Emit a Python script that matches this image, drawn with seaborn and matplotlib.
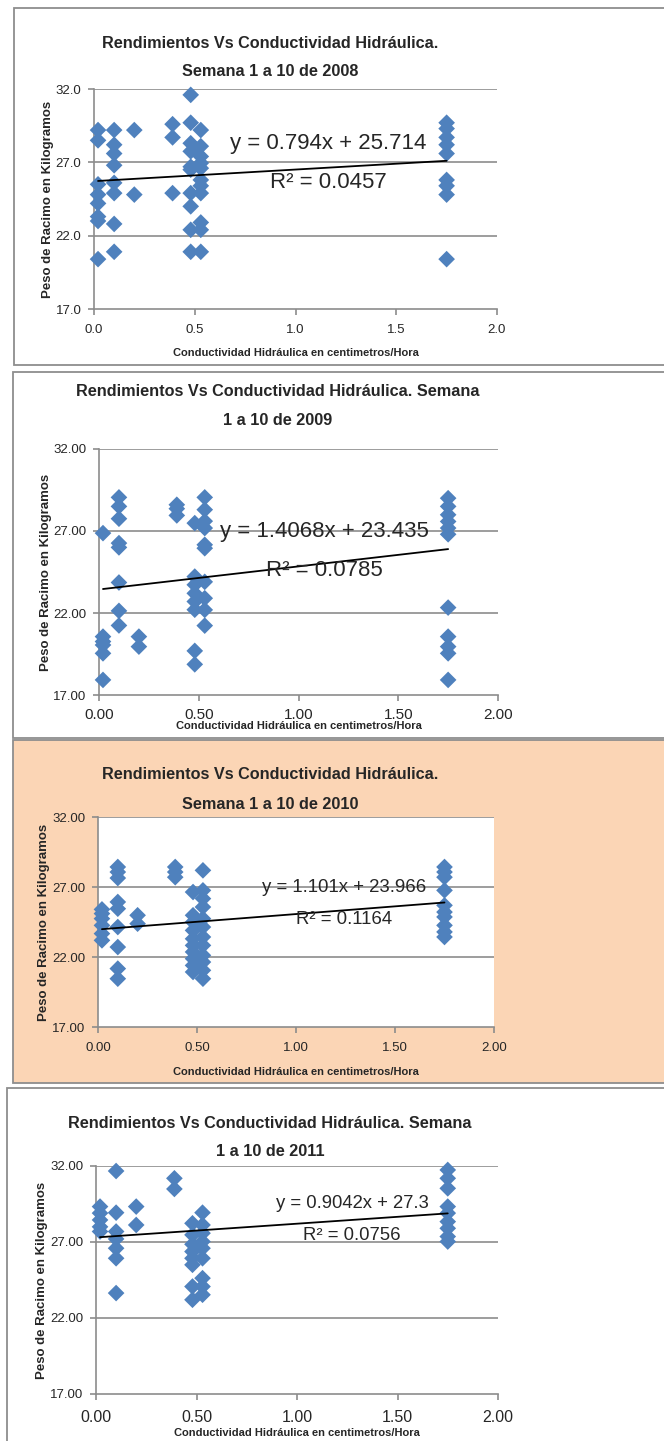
import numpy as np
import pandas as pd
import matplotlib
matplotlib.use("Agg")
import matplotlib.pyplot as plt
from matplotlib.patches import Rectangle
import seaborn as sns

# ---------------------------------------------------------------------------
# Data: bunch weight (kg) grouped by hydraulic conductivity (cm/h)
# ---------------------------------------------------------------------------
x_levels = [0.02, 0.10, 0.20, 0.39, 0.48, 0.53, 1.75]

peso_2008 = [
    [29.2, 28.5, 25.5, 24.8, 24.2, 23.3, 23.0, 20.4],
    [29.2, 28.2, 27.6, 26.8, 25.6, 24.9, 22.8, 20.9],
    [29.2, 24.8],
    [29.6, 28.7, 24.9],
    [31.6, 29.7, 28.3, 27.75, 26.7, 26.5, 24.9, 24.0, 22.4, 20.9],
    [29.2, 28.1, 27.4, 26.95, 26.6, 25.8, 25.4, 24.9, 22.9, 22.4, 20.9],
    [29.7, 29.3, 28.7, 28.2, 27.6, 25.8, 25.4, 24.8, 20.4],
]
peso_2009 = [
    [26.87, 20.56, 20.26, 20.05, 19.54, 17.92],
    [29.05, 28.5, 27.75, 26.26, 26.0, 23.86, 22.13, 21.24],
    [20.56, 19.95],
    [28.6, 28.36, 27.95],
    [27.48, 24.22, 23.72, 23.2, 22.7, 22.2, 19.69, 18.87],
    [29.05, 28.3, 27.6, 27.18, 26.16, 25.95, 23.9, 22.9, 22.19, 21.23],
    [29.0, 28.5, 27.99, 27.58, 27.18, 26.8, 22.33, 20.56, 19.95, 19.54, 17.92],
]
peso_2010 = [
    [25.4, 25.1, 24.74, 24.26, 23.67, 23.19],
    [28.43, 28.07, 27.64, 25.93, 25.45, 24.14, 22.71, 21.17, 20.45],
    [24.98, 24.38],
    [28.43, 28.07, 27.7],
    [26.64, 24.98, 24.5, 23.9, 23.3, 22.83, 22.36, 21.88, 21.4, 20.93],
    [28.19, 26.76, 26.17, 25.57, 24.74, 24.14, 23.43, 22.83, 22.12, 21.64, 21.05, 20.45],
    [28.43, 28.07, 27.7, 26.76, 25.69, 25.21, 24.86, 24.26, 23.79, 23.43],
]
peso_2011 = [
    [29.33, 28.9, 28.45, 28.0, 27.69],
    [31.67, 28.93, 27.69, 27.2, 26.59, 25.93, 23.64],
    [29.33, 28.12],
    [31.19, 30.49],
    [28.23, 27.47, 26.85, 26.37, 25.93, 25.5, 24.07, 23.2],
    [28.93, 28.12, 27.58, 27.03, 26.59, 25.93, 24.62, 24.07, 23.53],
    [31.74, 31.19, 30.53, 29.33, 28.9, 28.34, 27.9, 27.36, 27.03],
]

years = [2008, 2009, 2010, 2011]
slopes = [0.794, 1.4068, 1.101, 0.9042]
intercepts = [25.714, 23.435, 23.966, 27.3]
slope_labels = ["0.794", "1.4068", "1.101", "0.9042"]
intercept_labels = ["25.714", "23.435", "23.966", "27.3"]
r2_labels = ["0.0457", "0.0785", "0.1164", "0.0756"]

title_line1 = [
    "Rendimientos Vs Conductividad Hidráulica.",
    "Rendimientos Vs Conductividad Hidráulica. Semana",
    "Rendimientos Vs Conductividad Hidráulica.",
    "Rendimientos Vs Conductividad Hidráulica. Semana",
]
title_line2 = [
    "Semana 1 a 10 de 2008",
    "1 a 10 de 2009",
    "Semana 1 a 10 de 2010",
    "1 a 10 de 2011",
]

y_ticks = [17, 22, 27, 32]
x_ticks = [0.0, 0.5, 1.0, 1.5, 2.0]
x_label = "Conductividad Hidráulica en centimetros/Hora"
y_label = "Peso de Racimo en Kilogramos"

# ---------------------------------------------------------------------------
# Styling
# ---------------------------------------------------------------------------
sns.set_theme(style="white")
FONT = ["Liberation Sans", "DejaVu Sans"]
plt.rcParams["font.family"] = FONT

W, H = 664, 1441
BLUE = "#4F81BD"
GRID = "#8C8C8C"
FRAME = "#8E8E8E"
PEACH = "#FBD5B5"

fig = plt.figure(figsize=(W / 100, H / 100), dpi=100)
fig.patch.set_facecolor("white")


def fx(px):
    return px / W


def fy(py):
    return 1 - py / H


def frame(x0, y0, x1, y1, face="white"):
    fig.patches.append(
        Rectangle((fx(x0), fy(y1)), fx(x1) - fx(x0), fy(y0) - fy(y1),
                  transform=fig.transFigure, facecolor=face,
                  edgecolor=FRAME, linewidth=1.3, zorder=-5)
    )


# panel layout in pixels
panels = [
    dict(frame=(14, 8, 700, 365), face="white", ax=(94, 89, 497, 309),
         ylab_fmt="{:.1f}", xlab_fmt="{:.1f}", xtick_fs=9.5, xtick_pad=7,
         xlabel_y=353, ylabel_x=48, title_x=270, title_y=(43, 72),
         eq=(328, 143, 183), eq_fs=16),
    dict(frame=(13, 372, 700, 738), face="white", ax=(99, 449, 498, 695),
         ylab_fmt="{:.2f}", xlab_fmt="{:.2f}", xtick_fs=11, xtick_pad=5,
         xlabel_y=726, ylabel_x=46, title_x=278, title_y=(392, 420),
         eq=(324, 532, 571), eq_fs=16),
    dict(frame=(13, 740, 700, 1083), face=PEACH, ax=(98, 817, 494, 1027),
         ylab_fmt="{:.2f}", xlab_fmt="{:.2f}", xtick_fs=9.5, xtick_pad=6.5,
         xlabel_y=1072, ylabel_x=44, title_x=270, title_y=(775, 805),
         eq=(344, 888, 920), eq_fs=13.4),
    dict(frame=(7, 1088, 700, 1460), face="white", ax=(96, 1166, 498, 1394),
         ylab_fmt="{:.2f}", xlab_fmt="{:.2f}", xtick_fs=11.5, xtick_pad=7.5,
         xlabel_y=1433, ylabel_x=42, title_x=270, title_y=(1123, 1152),
         eq=(352, 1204, 1235), eq_fs=13.3),
]

datasets = [peso_2008, peso_2009, peso_2010, peso_2011]

for i, (cfg, peso) in enumerate(zip(panels, datasets)):
    frame(*cfg["frame"], face=cfg["face"])

    x0, y0, x1, y1 = cfg["ax"]
    ax = fig.add_axes([fx(x0), fy(y1), fx(x1) - fx(x0), fy(y0) - fy(y1)])
    ax.set_facecolor("white")

    df = pd.DataFrame(
        [(x, v) for x, vals in zip(x_levels, peso) for v in vals],
        columns=["kh", "peso"],
    )
    sns.scatterplot(data=df, x="kh", y="peso", marker="D", s=72,
                    color=BLUE, edgecolor="none", linewidth=0, ax=ax,
                    zorder=3, clip_on=False)

    # linear trend line from the fitted equation
    xs = np.array([min(x_levels), max(x_levels)])
    trend = pd.DataFrame({"kh": xs, "peso": slopes[i] * xs + intercepts[i]})
    sns.lineplot(data=trend, x="kh", y="peso", color="black", linewidth=1.3,
                 ax=ax, zorder=4)

    ax.set_xlim(0, 2)
    ax.set_ylim(17, 32)
    ax.set_xticks(x_ticks)
    ax.set_yticks(y_ticks)
    ax.set_xticklabels([cfg["xlab_fmt"].format(v) for v in x_ticks])
    ax.set_yticklabels([cfg["ylab_fmt"].format(v) for v in y_ticks])
    ax.grid(False)
    for v in y_ticks[1:]:
        ax.axhline(v, color=GRID, linewidth=1.2, zorder=1)
    for side in ("top", "right"):
        ax.spines[side].set_visible(False)
    for side in ("left", "bottom"):
        ax.spines[side].set_color(GRID)
        ax.spines[side].set_linewidth(1.2)
    ax.tick_params(axis="x", direction="out", length=4, width=1.2,
                   color=GRID, labelsize=cfg["xtick_fs"], pad=cfg["xtick_pad"],
                   bottom=True)
    ax.tick_params(axis="y", direction="out", length=4, width=1.2,
                   color=GRID, labelsize=9.5, pad=5, left=True)
    ax.set_xlabel("")
    ax.set_ylabel("")

    # axis titles
    fig.text(fx((x0 + x1) / 2), fy(cfg["xlabel_y"]), x_label, ha="center",
             va="center", fontsize=8, fontweight="bold")
    fig.text(fx(cfg["ylabel_x"]), fy((y0 + y1) / 2), y_label, ha="center",
             va="center", rotation=90, fontsize=9.5, fontweight="bold")

    # chart title, two lines
    fig.text(fx(cfg["title_x"]), fy(cfg["title_y"][0]), title_line1[i],
             ha="center", va="center", fontsize=11.7, fontweight="bold")
    fig.text(fx(cfg["title_x"]), fy(cfg["title_y"][1]), title_line2[i],
             ha="center", va="center", fontsize=11.7, fontweight="bold")

    # equation and R squared
    ex, ey1, ey2 = cfg["eq"]
    fig.text(fx(ex), fy(ey1),
             f"y = {slope_labels[i]}x + {intercept_labels[i]}",
             ha="center", va="center", fontsize=cfg["eq_fs"], zorder=10)
    fig.text(fx(ex), fy(ey2), f"R² = {r2_labels[i]}",
             ha="center", va="center", fontsize=cfg["eq_fs"], zorder=10)

fig.savefig("out.png", dpi=100, facecolor="white")
